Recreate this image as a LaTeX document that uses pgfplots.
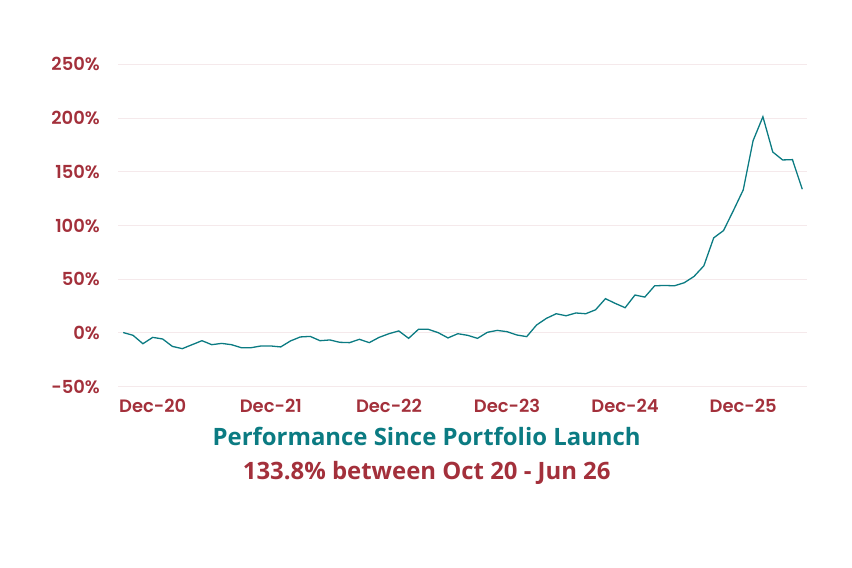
\documentclass[border=0pt]{standalone}
\usepackage{fontspec}
\setmainfont{Open Sans}
\newfontfamily\tickfont{Poppins SemiBold}
\usepackage{pgfplots}
\pgfplotsset{compat=1.18}
\definecolor{teal1}{HTML}{0B7B82}
\definecolor{red1}{HTML}{A3303B}
\definecolor{grid1}{HTML}{F5E9EB}
\begin{document}
\begin{tikzpicture}
\begin{axis}[
  at={(0,0)}, anchor=south west,
  scale only axis,
  width=688.4bp, height=322.4bp,
  xmin=-0.5, xmax=69.45,
  ymin=-50, ymax=250,
  axis line style={draw=none},
  ymajorgrids=true,
  grid style={grid1, line width=1bp},
  ytick={-50,0,50,100,150,200,250},
  yticklabels={-50\%,0\%,50\%,100\%,150\%,200\%,250\%},
  xtick={3,15,27,39,51,63},
  xticklabels={Dec-20,Dec-21,Dec-22,Dec-23,Dec-24,Dec-25},
  major tick length=0pt,
  tick style={draw=none},
  tick label style={font=\tickfont\fontsize{18}{21}\selectfont, text=red1},
  yticklabel style={anchor=east, xshift=-15bp},
  xticklabel style={anchor=north, yshift=-9bp},
  clip=false,
]
\addplot[teal1, line width=1.3bp] coordinates {
(0,0.4) (1,-2.2) (2,-10) (3,-4.1) (4,-5.6) (5,-12.5) (6,-14.6) (7,-10.9) (8,-7.2) (9,-10.9)
(10,-9.7) (11,-10.9) (12,-13.7) (13,-13.7) (14,-12.1) (15,-12.1) (16,-13) (17,-7.4) (18,-3.7) (19,-3.2)
(20,-7.2) (21,-6.5) (22,-8.7) (23,-9.0) (24,-5.9) (25,-9.0) (26,-4.1) (27,-0.7) (28,1.9) (29,-5.0)
(30,3.4) (31,3.4) (32,0.3) (33,-4.6) (34,-0.7) (35,-2.2) (36,-5.0) (37,0.6) (38,2.4) (39,1.2)
(40,-1.9) (41,-3.4) (42,7.4) (43,13.6) (44,17.9) (45,16.0) (46,18.6) (47,17.9) (48,21.6) (49,31.9)
(50,27.5) (51,23.5) (52,35.3) (53,33.4) (54,43.9) (55,44.2) (56,43.9) (57,46.7) (58,52.6) (59,62.5)
(60,88.5) (61,95.3) (62,113.9) (63,133.1) (64,178.9) (65,201.2) (66,168.4) (67,161.0) (68,161.3) (69,133.8)
};
\end{axis}
\node[anchor=base, text=teal1, font=\bfseries\fontsize{24}{28}\selectfont] at (308.4bp,-59bp) {Performance Since Portfolio Launch};
\node[anchor=base, text=red1, font=\bfseries\fontsize{24}{28}\selectfont] at (308.4bp,-92.3bp) {133.8\% between Oct 20 - Jun 26};
\path[use as bounding box] (-118.3bp,-181.3bp) rectangle (733.7bp,386.7bp);
\end{tikzpicture}
\end{document}
